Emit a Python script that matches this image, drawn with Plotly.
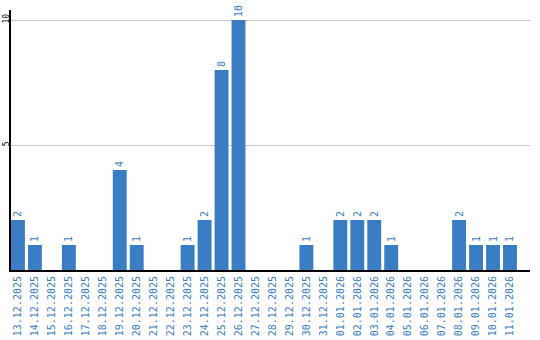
import plotly.graph_objects as go

dates = ["13.12.2025", "14.12.2025", "15.12.2025", "16.12.2025", "17.12.2025",
         "18.12.2025", "19.12.2025", "20.12.2025", "21.12.2025", "22.12.2025",
         "23.12.2025", "24.12.2025", "25.12.2025", "26.12.2025", "27.12.2025",
         "28.12.2025", "29.12.2025", "30.12.2025", "31.12.2025", "01.01.2026",
         "02.01.2026", "03.01.2026", "04.01.2026", "05.01.2026", "06.01.2026",
         "07.01.2026", "08.01.2026", "09.01.2026", "10.01.2026", "11.01.2026"]
counts = [2, 1, 0, 1, 0, 0, 4, 1, 0, 0, 1, 2, 8, 10, 0, 0, 0, 1, 0, 2,
          2, 2, 1, 0, 0, 0, 2, 1, 1, 1]
y_ticks = [5, 10]

blue = "#3b7dc4"
font = "DejaVu Sans Mono"

fig = go.Figure(go.Bar(
    x=dates, y=counts,
    marker=dict(color=blue, line=dict(width=0)),
    width=0.82,
    text=[str(v) if v else "" for v in counts],
    textposition="outside",
    textangle=-90,
    cliponaxis=False,
    textfont=dict(family=font, size=10, color=blue),
))

fig.update_layout(
    width=540, height=340,
    margin=dict(l=11, r=10, t=10, b=70),
    paper_bgcolor="white", plot_bgcolor="white",
    showlegend=False,
    bargap=0.18,
    uniformtext=dict(minsize=10, mode="show"),
)
fig.update_xaxes(
    type="category",
    range=[-0.41, 30.18],
    showline=True, linecolor="black", linewidth=2,
    showgrid=False,
    tickangle=-90,
    ticks="", ticklen=0,
    tickfont=dict(family=font, size=10, color=blue),
    automargin=False,
)
fig.update_yaxes(
    range=[0, 10.4],
    tickvals=y_ticks,
    ticktext=[str(v) for v in y_ticks],
    showline=True, linecolor="black", linewidth=2,
    showgrid=True, gridcolor="#c8c8c8", gridwidth=1,
    zeroline=False,
    tickangle=-90,
    tickfont=dict(family=font, size=8, color="black"),
    ticks="", ticklen=0,
    ticklabelstandoff=-3,
    automargin=False,
)

fig.write_html("out.html")
